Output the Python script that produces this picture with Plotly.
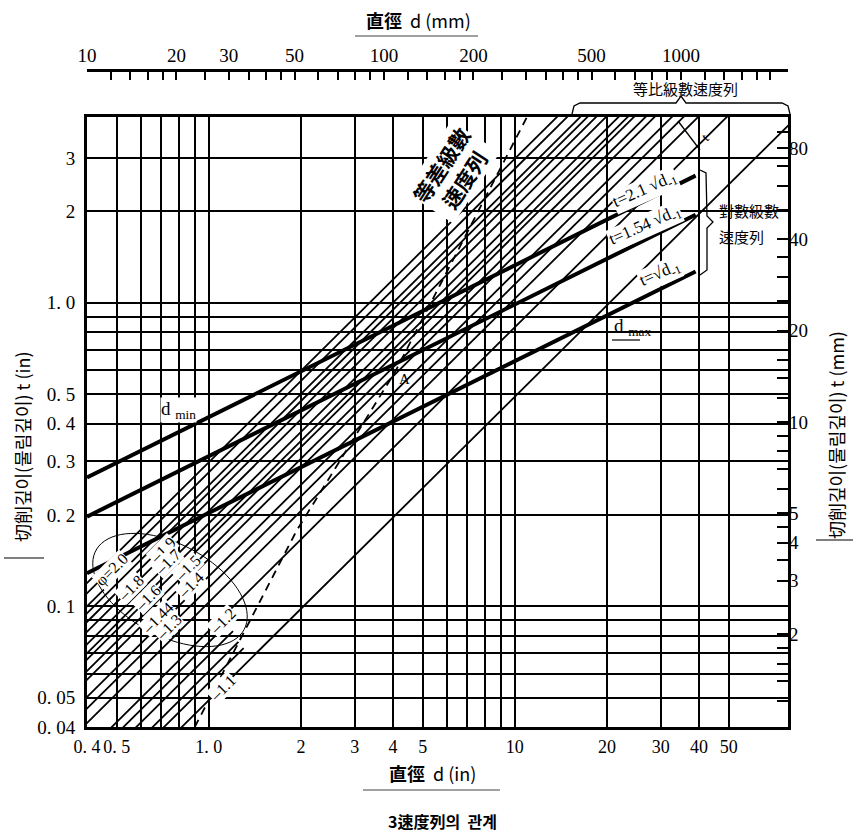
import numpy as np
import plotly.graph_objects as go

# ---------------- data ----------------
# bottom axis: diameter d (in)
x_grid_in = [0.4, 0.5, 0.6, 0.7, 0.8, 0.9, 1, 2, 3, 4, 5, 6, 7, 8, 9, 10, 20, 30, 40, 50]
x_lab_in = ["0. 4", "0. 5", "", "", "", "", "1. 0", "2", "3", "4", "5", "", "", "", "", "10", "20", "30", "40", "50"]
# left axis: depth t (in)
y_grid_in = [0.04, 0.05, 0.06, 0.07, 0.08, 0.09, 0.1, 0.2, 0.3, 0.4, 0.5, 0.6, 0.7, 0.8, 0.9, 1, 2, 3]
y_lab_in = ["0. 04", "0. 05", "", "", "", "", "0. 1", "0. 2", "0. 3", "0. 4", "0. 5", "", "", "", "", "1. 0", "2", "3"]
# top axis: diameter d (mm)
x_ticks_mm = [10, 12, 14, 16, 18, 20, 25, 30, 35, 40, 45, 50, 60, 70, 80, 90, 100, 120, 140, 160, 180, 200,
              250, 300, 350, 400, 450, 500, 600, 700, 800, 900, 1000, 1200, 1400, 1600, 1800, 2000]
x_lab_mm = {10: "10", 20: "20", 30: "30", 50: "50", 100: "100", 200: "200", 500: "500", 1000: "1000"}
# right axis: depth t (mm)
y_ticks_mm = [1.2, 1.4, 1.6, 1.8, 2, 3, 3.5, 4, 4.5, 5, 6, 7, 8, 9, 10, 12, 14, 16, 20, 25, 30, 35, 40, 50, 60, 70, 80, 90]
y_lab_mm = {2: "2", 3: "3", 4: "4", 5: "5", 10: "10", 20: "20", 40: "40", 80: "80"}

# geometric series lines t = k*d  (phi = 2.0 ... 1.1), k
phi_names = ["φ=2.0", "–1.9", "–1.8", "–1.7", "–1.6", "–1.5", "–1.44", "–1.4", "–1.3", "–1.2", "–1.1"]
geo_k = [0.25, 0.237, 0.222, 0.206, 0.1875, 0.167, 0.153, 0.143, 0.115, 0.083, 0.049]
# additional unlabeled hatch lines t = k*d
extra_k = [0.298, 0.276, 0.175, 0.1255, 0.103]
# short hatch lines near the lower-left corner (k, end diameter in)
short_k = [0.076, 0.069, 0.061, 0.056]
short_end_d = [1.15, 1.2, 1.25, 1.3]
# logarithmic series (thick): t = c*sqrt(d), c in inch units
log_names = ["t=2.1 √d<sub>-1</sub>", "t=1.54 √d<sub>-1</sub>", "t=√d<sub>-1</sub>"]
log_c = [0.42, 0.312, 0.203]
log_d_span = [0.4, 39]
# arithmetic series (dashed)
arith_d = [0.90, 1.94, 4.06, 10.96]
arith_t = [0.04, 0.178, 0.591, 4.09]

# ---------------- page geometry ----------------
W, H = 853, 832
L, R, T, B = 87, 788, 70, 727
PLOT_TOP = 117


def px(x):
    return (x - L) / (R - L)


def py(y):
    return (B - y) / (B - T)


fig = go.Figure()


def lines_trace(segs, width, dash="solid"):
    xs, ys = [], []
    for (xa, ya) in segs:
        xs += list(xa) + [None]
        ys += list(ya) + [None]
    fig.add_trace(go.Scatter(x=xs, y=ys, mode="lines", line=dict(color="black", width=width, dash=dash),
                             hoverinfo="skip", showlegend=False))


# hatch lines
segs = []
for k in geo_k + extra_k:
    segs.append(([0.2, 200], [k * 0.2, k * 200]))
for k, de in zip(short_k, short_end_d):
    d0 = 0.03 / k
    segs.append(([d0, de], [k * d0, k * de]))
lines_trace(segs, 1.8)

# thick sqrt lines
segs = []
for c in log_c:
    segs.append((log_d_span, [c * np.sqrt(d) for d in log_d_span]))
lines_trace(segs, 4)

# dashed arithmetic line
lines_trace([(arith_d, arith_t)], 1.8, dash="8px,6px")

# invisible trace for secondary axes
fig.add_trace(go.Scatter(x=[20, 200], y=[1, 10], xaxis="x2", yaxis="y2", mode="markers",
                         marker=dict(opacity=0), hoverinfo="skip", showlegend=False))

serif = "Liberation Serif, DejaVu Serif, serif"
cjk = "Noto Sans CJK KR, Noto Sans CJK JP, sans-serif"
ydom_top = py(PLOT_TOP)

fig.update_layout(
    width=W, height=H, paper_bgcolor="white", plot_bgcolor="white",
    margin=dict(l=L, r=W - R, t=T, b=H - B, pad=0),
    showlegend=False,
    xaxis=dict(type="log", range=[np.log10(0.4), np.log10(0.4) + 701 / 306], domain=[0, 1],
               tickvals=x_grid_in, ticktext=x_lab_in, showgrid=True, gridcolor="black", gridwidth=1.7,
               showline=True, linecolor="black", linewidth=2.8, mirror=True, ticks="", zeroline=False,
               tickangle=0,
               tickfont=dict(family=serif, size=18, color="black"), ticklabelstandoff=1),
    yaxis=dict(type="log", range=[np.log10(0.04), np.log10(0.04) + 610 / 303.5], domain=[0, ydom_top],
               tickvals=y_grid_in, ticktext=y_lab_in, showgrid=True, gridcolor="black", gridwidth=1.7,
               showline=True, linecolor="black", linewidth=2.8, mirror=True, ticks="", zeroline=False,
               tickfont=dict(family=serif, size=19, color="black"), ticklabelstandoff=5),
    xaxis2=dict(type="log", overlaying="x", anchor="free", position=1, side="top",
                range=[1, 1 + 701 / 297], tickvals=x_ticks_mm,
                ticktext=[x_lab_mm.get(v, "") for v in x_ticks_mm],
                ticks="inside", ticklen=8, tickwidth=1.8, tickcolor="black", tickangle=0,
                showline=True, linecolor="black", linewidth=2.8, showgrid=False, zeroline=False,
                tickfont=dict(family=serif, size=19, color="black")),
    yaxis2=dict(type="log", overlaying="y", anchor="x", side="right",
                range=[-0.005, 2.005], tickvals=y_ticks_mm,
                ticktext=[y_lab_mm.get(v, "") for v in y_ticks_mm],
                ticks="inside", ticklen=11, tickwidth=1.8, tickcolor="black",
                showline=False, showgrid=False, zeroline=False,
                tickfont=dict(family=serif, size=19, color="black")),
)

ann = []


def text(x, y, s, size=16, font=serif, angle=0, bg=None, xanchor="center", align="center"):
    d = dict(x=px(x), y=py(y), xref="paper", yref="paper", text=s, showarrow=False,
             font=dict(family=font, size=size, color="black"), textangle=angle,
             xanchor=xanchor, yanchor="middle", align=align, borderpad=0)
    if bg:
        d["bgcolor"] = bg
    ann.append(d)


# titles
text(418, 20, "<b>直徑</b>  d (mm)", 18, cjk)
text(432, 773, "<b>直徑</b>  d (in)", 18, cjk)
text(442, 821, "<b>3速度列의  관계</b>", 16, cjk)
text(22, 447, "切削깊이(물림깊이) t (in)", 18, cjk, angle=-90)
text(836, 435, "切削깊이(물림깊이) t (mm)", 18, cjk, angle=-90)
text(685, 88, "等比級數速度列", 15, cjk)
text(718, 210, "對數級數", 15, cjk, xanchor="left")
text(718, 236, "速度列", 15, cjk, xanchor="left")
text(452, 172, "<b>等差級數</b><br><b>速度列</b>", 21, cjk, angle=-57, bg="white")

# log-series labels
text(645, 190, log_names[0], 17, serif, angle=-24, bg="white")
text(645, 226, log_names[1], 17, serif, angle=-24, bg="white")
text(660, 274, log_names[2], 17, serif, angle=-24, bg="white")
text(178, 410, "d <sub>min</sub>", 19, serif, bg="white")
text(632, 327, "d <sub>max</sub>", 19, serif)
text(404, 379, "A", 15, serif)
text(705, 137, "t", 14, serif, angle=-45)

# phi labels
phi_pos = [(112, 570), (162, 550), (130, 588), (167, 562), (147, 598), (187, 568),
           (157, 618), (190, 585), (168, 627), (222, 621), (222, 688)]
for name, (x, y) in zip(phi_names, phi_pos):
    text(x, y, name, 16, serif, angle=-45, bg="white")

fig.update_layout(annotations=ann)

shapes = []


def pline(x0, y0, x1, y1, w=1.2, color="black"):
    shapes.append(dict(type="line", xref="paper", yref="paper", x0=px(x0), y0=py(y0), x1=px(x1), y1=py(y1),
                       line=dict(color=color, width=w)))


def ppath(points, w=1.2):
    p = "M " + " L ".join(f"{px(a):.5f},{py(b):.5f}" for a, b in points)
    shapes.append(dict(type="path", xref="paper", yref="paper", path=p, line=dict(color="black", width=w)))


# underlines
pline(355, 36, 478, 36, 1.2, "#444")
pline(363, 790, 500, 790, 1.2, "#444")
pline(4, 558, 44, 558, 1.2)
pline(816, 540, 853, 540, 1.2)
pline(612, 340, 640, 340, 1.2)

# ellipse around phi labels
th = np.linspace(0, 2 * np.pi, 80)
ang = np.deg2rad(28)
ex = 170 + 84 * np.cos(th) * np.cos(ang) - 46 * np.sin(th) * np.sin(ang)
ey = 590 + 84 * np.cos(th) * np.sin(ang) + 46 * np.sin(th) * np.cos(ang)
ppath(list(zip(ex, ey)), 1.0)

# top brace
brace_pts = [(572, 114), (574, 106), (580, 103), (676, 103), (681, 96), (686, 103), (782, 103), (788, 106), (790, 114)]
ppath(brace_pts, 1.3)
# right brace
ppath([(700, 170), (706, 173), (707, 216), (713, 222), (707, 228), (707, 270), (700, 275)], 1.3)
# t indicator
ppath([(678, 121), (700, 150)], 1.3)

fig.update_layout(shapes=shapes)
fig.write_html("out.html", config={"displayModeBar": False},
               post_script="document.body.style.margin='0';")
